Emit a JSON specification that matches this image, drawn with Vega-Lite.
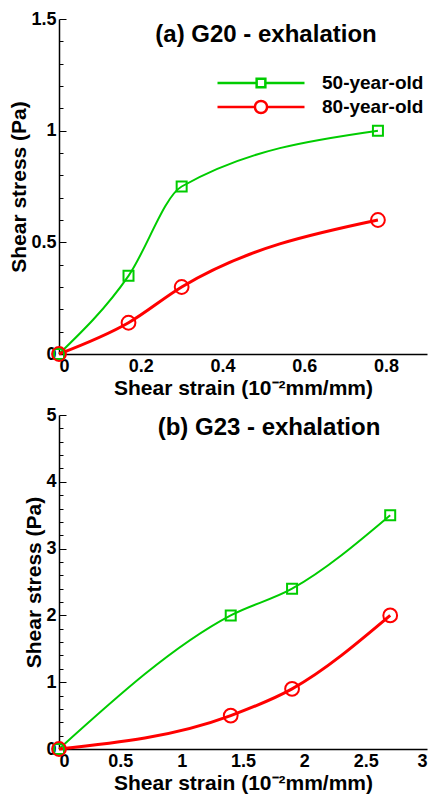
{
  "$schema": "https://vega.github.io/schema/vega-lite/v6.json",
  "padding": {"left": 8, "top": 10, "right": 5, "bottom": 5},
  "background": "white",
  "spacing": 8,
  "config": {
    "view": {"stroke": null},
    "font": "Liberation Sans",
    "axis": {
      "labelFont": "Liberation Sans", "labelFontWeight": "bold", "labelFontSize": 18, "labelColor": "black",
      "titleFont": "Liberation Sans", "titleFontWeight": "bold", "titleFontSize": 21, "titleColor": "black",
      "domainColor": "black", "domainWidth": 1.5, "tickColor": "black", "tickWidth": 1, "grid": false
    },
    "legend": {"labelFont": "Liberation Sans", "labelFontWeight": "bold", "labelFontSize": 19, "labelColor": "black", "padding": 0},
    "title": {"font": "Liberation Sans", "fontWeight": "bold", "fontSize": 24, "color": "black"}
  },
  "vconcat": [
    {
      "width": 368, "height": 335,
      "title": {"text": "(a) G20 - exhalation", "anchor": "middle", "offset": -37, "dx": 23},
      "data": {"values": [
        {"strain": 0, "stress": 0, "age": "50-year-old", "grp": "g50"},
        {"strain": 0.17, "stress": 0.35, "age": "50-year-old", "grp": "g50"},
        {"strain": 0.3, "stress": 0.75, "age": "50-year-old", "grp": "g50"},
        {"strain": 0.78, "stress": 1.0, "age": "50-year-old", "grp": "g50"},
        {"strain": 0, "stress": 0, "age": "80-year-old", "grp": "g80"},
        {"strain": 0.17, "stress": 0.14, "age": "80-year-old", "grp": "g80"},
        {"strain": 0.3, "stress": 0.3, "age": "80-year-old", "grp": "g80"},
        {"strain": 0.78, "stress": 0.6, "age": "80-year-old", "grp": "g80"}
      ]},
      "encoding": {
        "x": {"field": "strain", "type": "quantitative", "scale": {"domain": [0, 0.9], "nice": false},
              "axis": {"title": "Shear strain (10⁻²mm/mm)", "values": [0, 0.2, 0.4, 0.6, 0.8], "format": "~g", "ticks": false, "labelPadding": 3, "titlePadding": 2}},
        "y": {"field": "stress", "type": "quantitative", "scale": {"domain": [0, 1.5], "nice": false},
              "axis": {"title": "Shear stress (Pa)", "format": "~g",
                       "values": [0, 0.1, 0.2, 0.3, 0.4, 0.5, 0.6, 0.7, 0.8, 0.9, 1, 1.1, 1.2, 1.3, 1.4, 1.5],
                       "labelExpr": "abs(datum.value*2 - round(datum.value*2)) < 0.001 ? datum.label : ''",
                       "tickSize": 0,
                       "encoding": {"ticks": {"x2": {"condition": {"test": "abs(datum.value*2 - round(datum.value*2)) < 0.001", "value": 7}, "value": 4}}},
                       "labelPadding": 3, "titlePadding": 1}},
        "color": {"field": "age", "type": "nominal", "scale": {"domain": ["50-year-old", "80-year-old"], "range": ["#00cc00", "#ff0000"]},
                  "legend": {"orient": "none", "legendX": 157, "legendY": 52, "title": null, "symbolSize": 7569, "symbolStrokeWidth": 2.5, "symbolFillColor": "transparent", "clipHeight": 24, "rowPadding": 0, "labelOffset": 16,
                             "encoding": {"symbols": {"shape": {"condition": {"test": "datum.value == '50-year-old'", "value": "M-1,0H-0.1M0.1,0H1M-0.1,-0.1H0.1V0.1H-0.1Z"}, "value": "M-1,0H-0.14M0.14,0H1M-0.14,0A0.14,0.14,0,1,0,0.14,0A0.14,0.14,0,1,0,-0.14,0Z"}, "fill": {"value": "transparent"}}}}}
      },
      "layer": [
        {
          "transform": [{"filter": "datum.grp == 'g50'"}],
          "mark": {"type": "line", "interpolate": "monotone", "strokeWidth": 2}
        },
        {
          "transform": [{"filter": "datum.grp == 'g80'"}],
          "mark": {"type": "line", "interpolate": "monotone", "strokeWidth": 3}
        },
        {
          "mark": {"type": "point", "filled": false, "strokeWidth": 2, "opacity": 1},
          "encoding": {
            "shape": {"field": "grp", "type": "nominal", "scale": {"domain": ["g50", "g80"], "range": ["square", "circle"]}, "legend": null},
            "size": {"field": "grp", "type": "nominal", "scale": {"domain": ["g50", "g80"], "range": [100, 190]}, "legend": null}
          }
        }
      ]
    },
    {
      "width": 368, "height": 334,
      "title": {"text": "(b) G23 - exhalation", "anchor": "middle", "offset": -34, "dx": 26},
      "data": {"values": [
        {"strain": 0, "stress": 0, "age": "50-year-old", "grp": "g50"},
        {"strain": 1.4, "stress": 2.0, "age": "50-year-old", "grp": "g50"},
        {"strain": 1.9, "stress": 2.4, "age": "50-year-old", "grp": "g50"},
        {"strain": 2.7, "stress": 3.5, "age": "50-year-old", "grp": "g50"},
        {"strain": 0, "stress": 0, "age": "80-year-old", "grp": "g80"},
        {"strain": 1.4, "stress": 0.5, "age": "80-year-old", "grp": "g80"},
        {"strain": 1.9, "stress": 0.9, "age": "80-year-old", "grp": "g80"},
        {"strain": 2.7, "stress": 2.0, "age": "80-year-old", "grp": "g80"}
      ]},
      "encoding": {
        "x": {"field": "strain", "type": "quantitative", "scale": {"domain": [0, 3], "nice": false},
              "axis": {"title": "Shear strain (10⁻²mm/mm)", "values": [0, 0.5, 1, 1.5, 2, 2.5, 3], "format": "~g", "ticks": false, "labelPadding": 3, "titlePadding": 2}},
        "y": {"field": "stress", "type": "quantitative", "scale": {"domain": [0, 5], "nice": false},
              "axis": {"title": "Shear stress (Pa)", "format": "~g",
                       "values": [0, 0.2, 0.4, 0.6, 0.8, 1, 1.2, 1.4, 1.6, 1.8, 2, 2.2, 2.4, 2.6, 2.8, 3, 3.2, 3.4, 3.6, 3.8, 4, 4.2, 4.4, 4.6, 4.8, 5],
                       "labelExpr": "abs(datum.value - round(datum.value)) < 0.001 ? datum.label : ''",
                       "tickSize": 0,
                       "encoding": {"ticks": {"x2": {"condition": {"test": "abs(datum.value - round(datum.value)) < 0.001", "value": 7}, "value": 4}}},
                       "labelPadding": 3, "titlePadding": 1}},
        "color": {"field": "age", "type": "nominal", "scale": {"domain": ["50-year-old", "80-year-old"], "range": ["#00cc00", "#ff0000"]},
                  "legend": {"orient": "none", "legendX": 155, "legendY": 41, "title": null, "symbolSize": 7569, "symbolStrokeWidth": 2.5, "symbolFillColor": "transparent", "clipHeight": 24, "rowPadding": 0, "labelOffset": 16,
                             "encoding": {"symbols": {"shape": {"condition": {"test": "datum.value == '50-year-old'", "value": "M-1,0H-0.1M0.1,0H1M-0.1,-0.1H0.1V0.1H-0.1Z"}, "value": "M-1,0H-0.14M0.14,0H1M-0.14,0A0.14,0.14,0,1,0,0.14,0A0.14,0.14,0,1,0,-0.14,0Z"}, "fill": {"value": "transparent"}}}}}
      },
      "layer": [
        {
          "transform": [{"filter": "datum.grp == 'g50'"}],
          "mark": {"type": "line", "interpolate": "monotone", "strokeWidth": 2}
        },
        {
          "transform": [{"filter": "datum.grp == 'g80'"}],
          "mark": {"type": "line", "interpolate": "monotone", "strokeWidth": 3}
        },
        {
          "mark": {"type": "point", "filled": false, "strokeWidth": 2, "opacity": 1},
          "encoding": {
            "shape": {"field": "grp", "type": "nominal", "scale": {"domain": ["g50", "g80"], "range": ["square", "circle"]}, "legend": null},
            "size": {"field": "grp", "type": "nominal", "scale": {"domain": ["g50", "g80"], "range": [100, 190]}, "legend": null}
          }
        }
      ]
    }
  ]
}
